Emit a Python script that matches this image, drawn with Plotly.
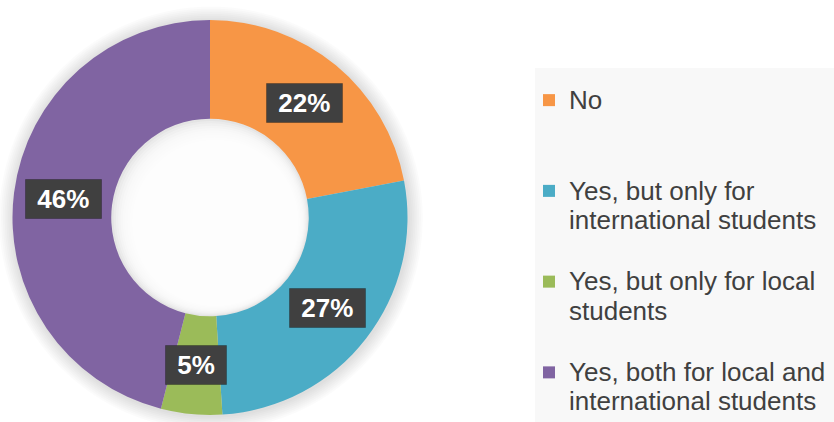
import math
import plotly.graph_objects as go

# ---------------- data ----------------
categories = [
    "No",
    "Yes, but only for<br>international students",
    "Yes, but only for local<br>students",
    "Yes, both for local and<br>international students",
]
percent_values = [22, 27, 5, 46]
slice_colors = ["#F79646", "#4BACC6", "#9BBB59", "#8064A2"]

# ---------------- geometry / style ----------------
W, H = 834, 422
FONT = "Liberation Sans, Arial, sans-serif"
pie_left, pie_right, pie_top, pie_bottom = 10, 410, 20, 415
hole = 0.5
R = min(pie_right - pie_left, pie_bottom - pie_top) / 2
cx = (pie_left + pie_right) / 2
cy = (pie_top + pie_bottom) / 2
r_hole = R * hole


def px_x(v):
    return v / W


def px_y(v):
    return 1 - v / H


def legend_label(text, lines=3):
    parts = text.split("<br>")
    styled = "<br>".join(f"<span style='font-size:26px'>{p}</span>" for p in parts)
    return styled + "<br> " * (lines - len(parts))


legend_labels = [legend_label(c) for c in categories]

fig = go.Figure()
fig.add_trace(go.Pie(
    labels=legend_labels,
    values=percent_values,
    marker=dict(colors=slice_colors, line=dict(width=0)),
    hole=hole,
    sort=False,
    direction="clockwise",
    rotation=0,
    textinfo="none",
    domain=dict(x=[px_x(pie_left), px_x(pie_right)], y=[px_y(pie_bottom), px_y(pie_top)]),
    hovertemplate="%{percent}<extra></extra>",
))

shapes = []
# legend background panel
shapes.append(dict(type="rect", xref="paper", yref="paper", x0=px_x(535), x1=1.0,
                   y0=0, y1=px_y(68), fillcolor="#F8F8F8", line=dict(width=0), layer="below"))


def circle(x, y, r, fill):
    return dict(type="circle", xref="paper", yref="paper",
                x0=px_x(x - r), x1=px_x(x + r), y0=px_y(y + r), y1=px_y(y - r),
                fillcolor=fill, line=dict(width=0), layer="below")


# outer soft shadow
for i in range(1, 9):
    shapes.append(circle(cx + 1, cy + 1, R + i * 1.8, "rgba(0,0,0,0.016)"))
# clean hole then inner shadow
shapes.append(circle(cx, cy, r_hole + 2, "#FFFFFF"))
shapes.append(circle(cx, cy, r_hole + 1, "#E4E4E4"))
for k in range(1, 10):
    shapes.append(circle(cx + k * 0.6, cy + k * 0.6, r_hole - k * 1.7, "rgba(255,255,255,0.28)"))

# ---------------- data labels ----------------
annotations = []
total = sum(percent_values)
r_lab = R * (1 + hole) / 2
cum = 0
for v in percent_values:
    ang = (cum + v / 2) / total * 2 * math.pi
    lx = cx + r_lab * math.sin(ang)
    ly = cy - r_lab * math.cos(ang)
    txt = f"&nbsp;{round(v / total * 100)}%&nbsp;"
    annotations.append(dict(x=px_x(lx), y=px_y(ly), xref="paper", yref="paper",
                            xanchor="center", yanchor="middle", showarrow=False,
                            text=f"<b>{txt}</b>", borderpad=4,
                            font=dict(family=FONT, size=26, color="#FFFFFF"),
                            bgcolor="#404040", bordercolor="rgba(0,0,0,0.25)", borderwidth=1))
    cum += v

fig.update_layout(
    width=W, height=H,
    margin=dict(l=0, r=0, t=0, b=0, autoexpand=False),
    paper_bgcolor="#FFFFFF",
    plot_bgcolor="#FFFFFF",
    font=dict(family=FONT, color="#404040"),
    showlegend=True,
    legend=dict(x=px_x(529), xanchor="left", y=px_y(79), yanchor="top",
                bgcolor="rgba(0,0,0,0)", font=dict(family=FONT, size=22.5, color="#404040"),
                valign="top", itemclick=False, itemdoubleclick=False),
    shapes=shapes,
    annotations=annotations,
)

fig.write_html("out.html", config={"displayModeBar": False},
               post_script="document.body.style.margin='0';")
